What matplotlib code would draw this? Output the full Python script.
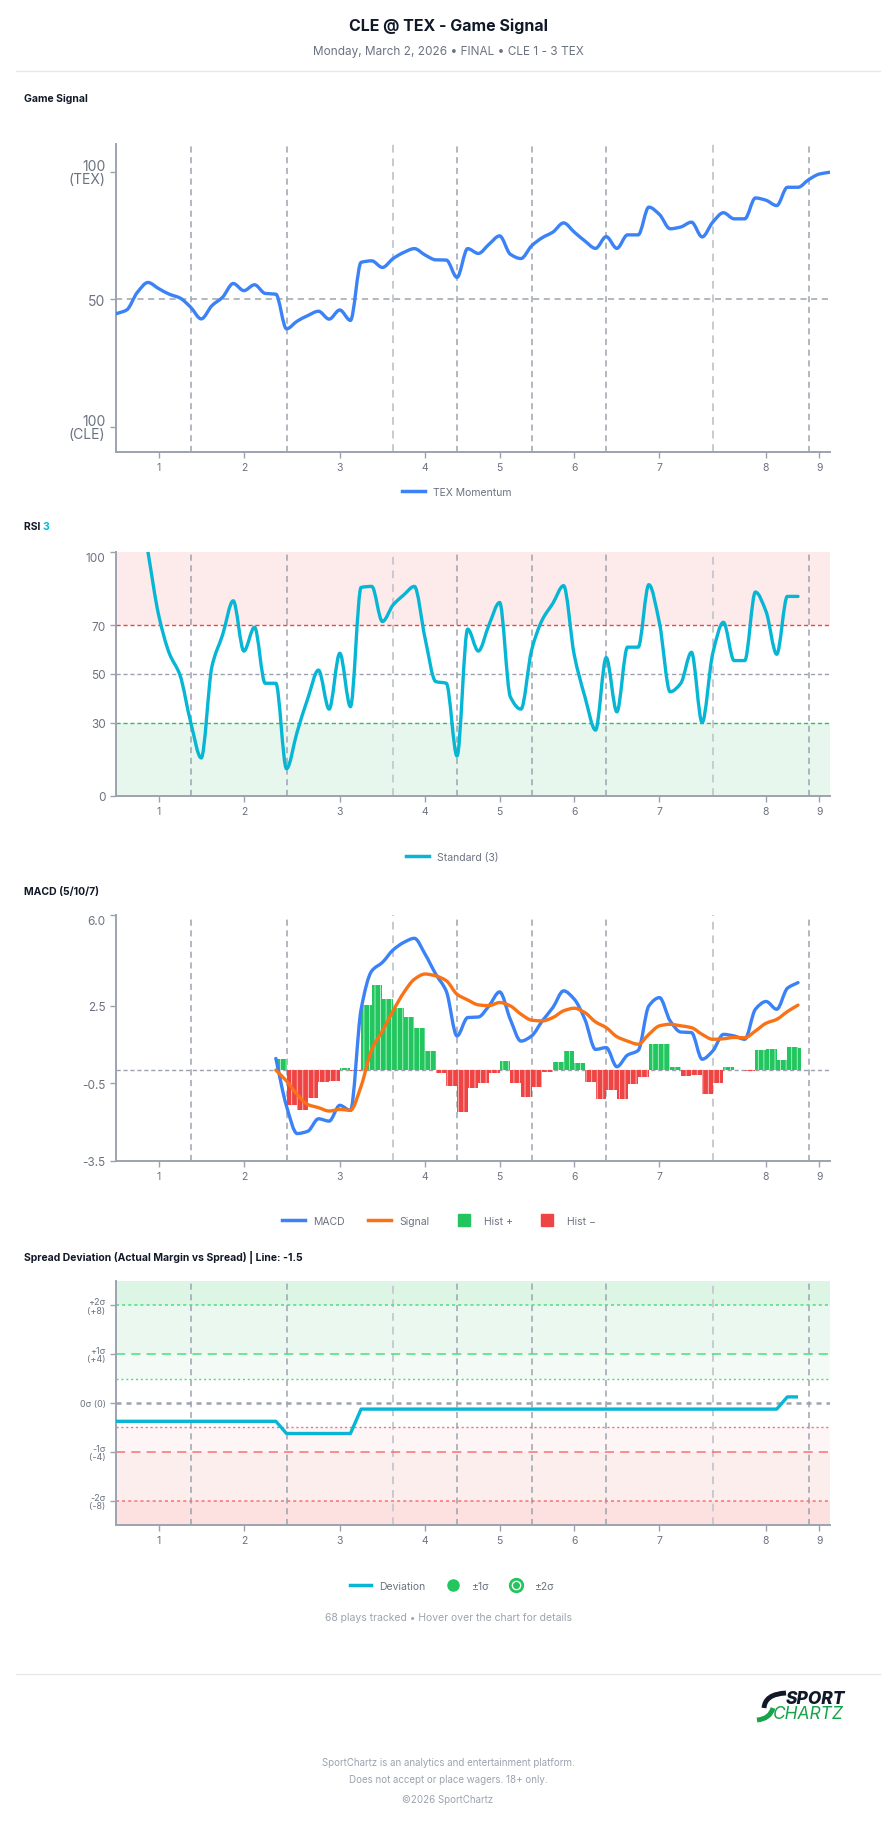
import numpy as np
import matplotlib.pyplot as plt
from matplotlib.path import Path
from matplotlib.patches import PathPatch
from matplotlib.lines import Line2D
from matplotlib.legend_handler import HandlerTuple

plt.rcParams['font.family'] = ['Inter', 'DejaVu Sans']
plt.rcParams['hatch.linewidth'] = 0.6

# ---- data (play index on x) ----
inning_labels = ['1', '2', '3', '4', '5', '6', '7', '8', '9']
inning_ticks = [4, 12, 21, 29, 36, 43, 51, 61, 66]
inning_breaks = [7, 16, 26, 32, 39, 46, 56, 65]

momentum = [44.3, 45.8, 52.7, 56.6, 54.2, 52.0, 50.5, 46.9, 42.3, 47.5,
            50.8, 56.2, 53.4, 55.7, 52.3, 52.0, 38.4, 41.4, 43.6, 45.3,
            42.2, 45.8, 41.7, 64.5, 65.1, 62.5, 66.0, 68.4, 69.9, 67.4,
            65.5, 65.4, 58.6, 69.9, 68.0, 71.6, 74.9, 67.7, 66.0, 71.0,
            74.2, 76.4, 80.0, 76.4, 72.9, 70.0, 74.6, 70.0, 75.3, 75.3,
            86.2, 83.3, 77.7, 78.4, 80.3, 74.5, 80.3, 84.0, 81.6, 81.6,
            89.8, 88.9, 86.8, 94.0, 94.0, 97.0, 99.2, 99.9]

rsi = [None, None, None, 100, 74.2, 58.5, 49.6, 30.4, 15.6, 53.0,
       66.0, 80.0, 59.4, 69.2, 46.2, 46.2, 11.2, 26.3, 40.0, 51.6,
       35.6, 58.5, 36.6, 85.5, 85.9, 71.5, 78.3, 82.4, 85.9, 64.7,
       46.9, 46.2, 16.4, 68.4, 59.4, 70.1, 79.3, 40.7, 35.6, 59.8,
       72.2, 79.0, 86.2, 57.8, 40.7, 27.0, 56.7, 34.5, 61.0, 61.0,
       86.6, 70.8, 42.7, 46.2, 58.9, 30.1, 58.5, 71.2, 55.5, 55.5,
       83.6, 75.6, 58.1, 81.8, 81.8]

macd_start = 15
macd = [0.46, -1.38, -2.44, -2.35, -1.87, -1.96, -1.35, -1.55, 2.36, 3.84,
        4.17, 4.65, 4.94, 5.10, 4.49, 3.72, 3.05, 1.33, 2.04, 2.06,
        2.49, 3.03, 1.97, 1.13, 1.33, 1.91, 2.43, 3.07, 2.75, 1.97,
        0.81, 0.88, 0.14, 0.59, 0.77, 2.49, 2.81, 1.91, 1.48, 1.46,
        0.43, 0.75, 1.39, 1.33, 1.20, 2.36, 2.66, 2.36, 3.17, 3.39]
signal = [0.01, -0.41, -0.93, -1.32, -1.44, -1.57, -1.51, -1.54, -0.61, 0.81,
          1.52, 2.30, 3.00, 3.52, 3.72, 3.65, 3.46, 2.94, 2.72, 2.53,
          2.50, 2.62, 2.49, 2.17, 1.94, 1.91, 2.04, 2.30, 2.40, 2.23,
          1.87, 1.65, 1.30, 1.13, 1.01, 1.39, 1.72, 1.78, 1.72, 1.65,
          1.39, 1.20, 1.22, 1.27, 1.26, 1.52, 1.82, 1.97, 2.27, 2.52]
hist = [0.45, -1.32, -1.54, -1.08, -0.45, -0.41, 0.10, -0.03, 2.52, 3.29,
        2.75, 2.40, 2.08, 1.65, 0.75, -0.09, -0.61, -1.61, -0.67, -0.50,
        -0.09, 0.36, -0.48, -1.02, -0.63, -0.07, 0.34, 0.75, 0.27, -0.45,
        -1.10, -0.76, -1.12, -0.54, -0.25, 1.03, 1.03, 0.14, -0.22, -0.18,
        -0.90, -0.48, 0.12, 0.03, -0.04, 0.79, 0.81, 0.40, 0.90, 0.85]

deviation = [-1.5, -1.5, -1.5, -1.5, -1.5, -1.5, -1.5, -1.5, -1.5, -1.5,
             -1.5, -1.5, -1.5, -1.5, -1.5, -1.5, -2.5, -2.5, -2.5, -2.5,
             -2.5, -2.5, -2.5, -0.5, -0.5, -0.5, -0.5, -0.5, -0.5, -0.5,
             -0.5, -0.5, -0.5, -0.5, -0.5, -0.5, -0.5, -0.5, -0.5, -0.5,
             -0.5, -0.5, -0.5, -0.5, -0.5, -0.5, -0.5, -0.5, -0.5, -0.5,
             -0.5, -0.5, -0.5, -0.5, -0.5, -0.5, -0.5, -0.5, -0.5, -0.5,
             -0.5, -0.5, -0.5, 0.5, 0.5]

BLUE = '#3b82f6'
CYAN = '#06b6d4'
ORANGE = '#f97316'
GREEN = '#22c55e'
RED = '#ef4444'
GRAY = '#9ca3af'
TXT = '#6b7280'
DARK = '#111827'
LOGO_GREEN = '#16a34a'

W, H = 896, 1824
fig = plt.figure(figsize=(W / 100, H / 100), dpi=100)


def fx(px):
    return px / W


def fy(py):
    return 1 - py / H


def make_axes(top, bottom):
    return fig.add_axes([fx(116), fy(bottom), fx(830) - fx(116), (bottom - top) / H])


def smooth(ax, x, y, **kw):
    # monotone cubic drawn as bezier path
    x = np.asarray(x, float)
    y = np.asarray(y, float)
    n = len(x)
    h = np.diff(x)
    d = np.diff(y) / h
    m = np.zeros(n)
    m[0], m[-1] = d[0], d[-1]
    for i in range(1, n - 1):
        if d[i - 1] * d[i] <= 0:
            m[i] = 0
        else:
            m[i] = 3 * (h[i - 1] + h[i]) / ((2 * h[i] + h[i - 1]) / d[i - 1] + (h[i] + 2 * h[i - 1]) / d[i])
    verts = [(x[0], y[0])]
    codes = [Path.MOVETO]
    for i in range(n - 1):
        verts += [(x[i] + h[i] / 3, y[i] + m[i] * h[i] / 3),
                  (x[i + 1] - h[i] / 3, y[i + 1] - m[i + 1] * h[i] / 3),
                  (x[i + 1], y[i + 1])]
        codes += [Path.CURVE4] * 3
    ax.add_patch(PathPatch(Path(verts, codes), fill=False, capstyle='round',
                           joinstyle='round', **kw))


def style(ax, ylim):
    ax.set_xlim(0, 67)
    ax.set_ylim(*ylim)
    for s in ['top', 'right']:
        ax.spines[s].set_visible(False)
    for s in ['left', 'bottom']:
        ax.spines[s].set_color(GRAY)
        ax.spines[s].set_linewidth(1.4)
    ax.set_xticks(inning_ticks)
    ax.set_xticklabels(inning_labels)
    ax.tick_params(axis='both', colors=GRAY, labelcolor=TXT, length=4, width=1)
    ax.tick_params(axis='x', labelsize=7.5, pad=3)
    for b in inning_breaks:
        if b in (26, 56):
            ax.axvline(b, color='#c8cad0', ls=(0, (4, 3)), lw=1.4, zorder=1)
        else:
            ax.axvline(b, color=GRAY, ls=(0, (4, 3)), lw=1.1, zorder=1)


# ---- header ----
fig.text(0.5, fy(26), 'CLE @ TEX - Game Signal', ha='center', va='center',
         fontsize=11.5, weight='bold', color=DARK)
fig.text(0.5, fy(52), 'Monday, March 2, 2026 • FINAL • CLE 1 - 3 TEX', ha='center',
         va='center', fontsize=8.5, color=TXT)
fig.add_artist(Line2D([fx(16), fx(880)], [fy(72), fy(72)], color='#e5e7eb', lw=1))


def section(py, label):
    return fig.text(fx(24), fy(py), label, ha='left', va='center', fontsize=7.5,
                    weight='bold', color=DARK)


x_all = np.arange(len(momentum))

# ---- panel 1: game signal ----
section(99, 'Game Signal')
ax1 = make_axes(145, 453)
style(ax1, (-10, 111))
ax1.axhline(50, color=GRAY, ls=(0, (4, 3)), lw=1.1, zorder=1)
smooth(ax1, x_all, momentum, color=BLUE, lw=2.4, zorder=3)
ax1.set_yticks([0, 50, 100])
ax1.set_yticklabels(['100\n(CLE)', '50', '100\n(TEX)'], fontsize=10, linespacing=0.9)
fig.legend(handles=[Line2D([], [], color=BLUE, lw=2.5)], labels=['TEX Momentum'],
           loc='center', bbox_to_anchor=(0.51, fy(493)), frameon=False,
           fontsize=7.5, labelcolor=TXT, handlelength=2.2)

# ---- panel 2: RSI ----
t = section(527, 'RSI ')
r = fig.canvas.get_renderer()
bb = t.get_window_extent(r)
fig.text(bb.x1 / W, fy(527), '3', ha='left', va='center', fontsize=7.5,
         weight='bold', color=CYAN)
ax2 = make_axes(553, 797)
style(ax2, (0, 100))
ax2.axhspan(70, 100, color='#fdeaea', zorder=0, lw=0)
ax2.axhspan(0, 30, color='#e8f7ee', zorder=0, lw=0)
ax2.axhline(70, color=RED, ls=(0, (3, 2)), lw=1.0, zorder=1)
ax2.axhline(30, color=GREEN, ls=(0, (3, 2)), lw=1.0, zorder=1)
ax2.axhline(50, color=GRAY, ls=(0, (3, 2)), lw=1.0, zorder=1)
rx = [i for i, v in enumerate(rsi) if v is not None]
ry = [v for v in rsi if v is not None]
smooth(ax2, rx, ry, color=CYAN, lw=2.4, zorder=3)
ax2.set_yticks([0, 30, 50, 70, 100])
ax2.set_yticklabels(['0', '30', '50', '70', '100'], fontsize=8.5)
ax2.get_yticklabels()[-1].set_va('top')
fig.legend(handles=[Line2D([], [], color=CYAN, lw=2.5)], labels=['Standard (3)'],
           loc='center', bbox_to_anchor=(0.505, fy(858)), frameon=False,
           fontsize=7.5, labelcolor=TXT, handlelength=2.2)

# ---- panel 3: MACD ----
section(892, 'MACD (5/10/7)')
ax3 = make_axes(916, 1162)
style(ax3, (-3.5, 6.0))
ax3.axhline(0, color=GRAY, ls=(0, (3, 2)), lw=1.0, zorder=1)
xm = np.arange(macd_start, macd_start + len(macd))
bw = np.ones(len(hist))
bw[-1] = 0.25
ax3.bar(xm, hist, width=bw, align='edge',
        color=[GREEN if v >= 0 else RED for v in hist],
        edgecolor=['#bbf7d0' if v >= 0 else '#fecaca' for v in hist],
        hatch='|||', lw=0, zorder=2)
smooth(ax3, xm, macd, color=BLUE, lw=2.4, zorder=4)
smooth(ax3, xm, signal, color=ORANGE, lw=2.4, zorder=5)
ax3.set_yticks([-3.5, -0.5, 2.5, 6.0])
ax3.set_yticklabels(['-3.5', '-0.5', '2.5', '6.0'], fontsize=8.5)
ax3.get_yticklabels()[-1].set_va('top')
h3 = [Line2D([], [], color=BLUE, lw=2.5), Line2D([], [], color=ORANGE, lw=2.5),
      Line2D([], [], marker='s', ls='none', ms=9, color=GREEN),
      Line2D([], [], marker='s', ls='none', ms=9, color=RED)]
fig.legend(handles=h3, labels=['MACD', 'Signal', 'Hist +', 'Hist \u2212'], loc='center',
           bbox_to_anchor=(0.49, fy(1222)), frameon=False, ncol=4, fontsize=7.5,
           labelcolor=TXT, handlelength=2.2, columnspacing=2.2)

# ---- panel 4: spread deviation ----
section(1257, 'Spread Deviation (Actual Margin vs Spread) | Line: -1.5')
ax4 = make_axes(1282, 1526)
style(ax4, (-10, 10))
bands = [(8, 10, '#dcf5e5'), (4, 8, '#ebf8f0'), (2, 4, '#f4fbf7'),
         (-4, -2, '#fef6f6'), (-8, -4, '#fdeeee'), (-10, -8, '#fde1e1')]
for lo, hi, c in bands:
    ax4.axhspan(lo, hi, color=c, zorder=0, lw=0)
ax4.axhline(8, color='#4ade80', ls=(0, (2, 2)), lw=1.1, zorder=1)
ax4.axhline(4, color='#4ade80', ls=(0, (6, 4)), lw=1.1, zorder=1)
ax4.axhline(2, color='#4ade80', ls=(0, (1.5, 2)), lw=1.0, zorder=1)
ax4.axhline(0, color=GRAY, ls=(0, (2, 2)), lw=1.8, zorder=1)
ax4.axhline(-2, color='#f87171', ls=(0, (1.5, 2)), lw=1.0, zorder=1)
ax4.axhline(-4, color='#f87171', ls=(0, (6, 4)), lw=1.1, zorder=1)
ax4.axhline(-8, color='#f87171', ls=(0, (2, 2)), lw=1.1, zorder=1)
ax4.plot(np.arange(len(deviation)), deviation, color=CYAN, lw=2.4, zorder=3,
         solid_joinstyle='round', solid_capstyle='butt')
ax4.set_yticks([-8, -4, 0, 4, 8])
ax4.set_yticklabels(['-2σ\n(-8)', '-1σ\n(-4)', '0σ (0)', '+1σ\n(+4)', '+2σ\n(+8)'],
                    fontsize=6.5, linespacing=0.9)
ring = Line2D([], [], marker='o', ls='none', ms=9, mfc='white', mec=GREEN, mew=2)
dot = Line2D([], [], marker='o', ls='none', ms=4, color=GREEN)
h4 = [Line2D([], [], color=CYAN, lw=2.5),
      Line2D([], [], marker='o', ls='none', ms=8, color=GREEN), (ring, dot)]
fig.legend(handles=h4, labels=['Deviation', '±1σ', '±2σ'], loc='center',
           bbox_to_anchor=(0.505, fy(1587)), frameon=False, ncol=3, fontsize=7.5,
           labelcolor=TXT, handlelength=2.0, columnspacing=1.6,
           handler_map={tuple: HandlerTuple(ndivide=1)})
fig.text(0.5, fy(1618), '68 plays tracked • Hover over the chart for details',
         ha='center', va='center', fontsize=7.5, color=GRAY)

# ---- footer ----
fig.add_artist(Line2D([fx(16), fx(880)], [fy(1675), fy(1675)], color='#e5e7eb', lw=1))
# logo swoosh
swoosh_top = Path([(fx(764), fy(1709)), (fx(765), fy(1695)), (fx(786), fy(1694))],
                  [Path.MOVETO, Path.CURVE3, Path.CURVE3])
swoosh_low = Path([(fx(757), fy(1721)), (fx(770), fy(1720)), (fx(773), fy(1709))],
                  [Path.MOVETO, Path.CURVE3, Path.CURVE3])
fig.add_artist(PathPatch(swoosh_top, fill=False, lw=3.5, color=DARK,
                         capstyle='butt', transform=fig.transFigure))
fig.add_artist(PathPatch(swoosh_low, fill=False, lw=3.5, color=LOGO_GREEN,
                         capstyle='butt', transform=fig.transFigure))
fig.text(fx(786), fy(1700), 'SPORT', ha='left', va='center', fontsize=12.5,
         weight='heavy', style='italic', color=DARK)
fig.text(fx(773), fy(1715), 'CHARTZ', ha='left', va='center', fontsize=12.5,
         style='italic', color=LOGO_GREEN)
fig.text(0.5, fy(1763), 'SportChartz is an analytics and entertainment platform.',
         ha='center', va='center', fontsize=7, color=GRAY)
fig.text(0.5, fy(1780), 'Does not accept or place wagers. 18+ only.',
         ha='center', va='center', fontsize=7, color=GRAY)
fig.text(0.5, fy(1800), '©2026 SportChartz', ha='center', va='center',
         fontsize=7, color=GRAY)

fig.savefig('out.png', dpi=100)
